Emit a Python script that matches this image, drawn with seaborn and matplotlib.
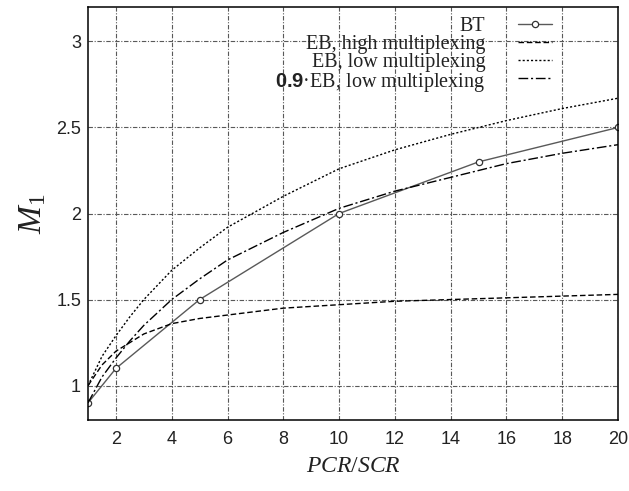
# -*- coding: utf-8 -*-
"""
M1 vs PCR/SCR: BT against the EB bounds (gnuplot-like look)
"""
import matplotlib
matplotlib.use("Agg")
import matplotlib.pyplot as plt
import seaborn as sns
import pandas as pd

# BT simulation points
bt_x = [1, 2, 5, 10, 15, 20]
bt_y = [0.9, 1.1, 1.5, 2.0, 2.3, 2.5]

# EB curves
eb_x = [1, 1.5, 2, 2.5, 3, 4, 5, 6, 8, 10, 12, 14, 16, 18, 20]
eb_high = [1.0, 1.12, 1.2, 1.25, 1.3, 1.36, 1.39, 1.41, 1.45, 1.47, 1.49, 1.5, 1.51, 1.52, 1.53]
eb_low = [1.0, 1.17, 1.29, 1.4, 1.5, 1.67, 1.8, 1.92, 2.1, 2.26, 2.37, 2.46, 2.54, 2.61, 2.67]
eb_low09 = [0.9, 1.05, 1.16, 1.26, 1.35, 1.5, 1.62, 1.73, 1.89, 2.03, 2.13, 2.21, 2.29, 2.35, 2.4]

x_ticks = [2, 4, 6, 8, 10, 12, 14, 16, 18, 20]
y_ticks = [1, 1.5, 2, 2.5, 3]
y_tick_labels = ["1", "1.5", "2", "2.5", "3"]

labels = ["BT", "EB, high multiplexing", "EB, low multiplexing",
          "$\\mathbf{0.9}$\u00b7EB, low multiplexing"]


def set_style():
    sns.set_theme(style="white")
    plt.rcParams.update({
        'font.family': 'Liberation Sans',
        'mathtext.fontset': 'custom',
        'mathtext.rm': 'Liberation Serif',
        'mathtext.it': 'Liberation Serif:italic',
        'mathtext.bf': 'Liberation Sans:bold',
        'axes.edgecolor': 'black',
        'axes.linewidth': 1.1,
    })


set_style()
fig, ax = plt.subplots(figsize=(6.29, 4.91), dpi=100)
fig.subplots_adjust(left=0.140, right=0.9825, top=0.9857, bottom=0.1446)

bt_df = pd.DataFrame({'x': bt_x, 'y': bt_y})
eb_df = pd.DataFrame({'x': eb_x, 'high': eb_high, 'low': eb_low, 'low09': eb_low09})

sns.lineplot(data=bt_df, x='x', y='y', ax=ax, color='0.35', linewidth=1.0,
             marker='o', markersize=4.5, markerfacecolor='white',
             markeredgecolor='0.2', markeredgewidth=0.9, label=labels[0])
sns.lineplot(data=eb_df, x='x', y='high', ax=ax, color='black', linewidth=1.0,
             linestyle=(0, (4, 2)), label=labels[1])
sns.lineplot(data=eb_df, x='x', y='low', ax=ax, color='black', linewidth=1.0,
             linestyle=(0, (1.5, 1.5)), label=labels[2])
sns.lineplot(data=eb_df, x='x', y='low09', ax=ax, color='black', linewidth=1.0,
             linestyle=(0, (7, 2, 1.5, 2)), label=labels[3])

ax.set_xlim(1, 20)
ax.set_ylim(0.8, 3.2)
ax.set_xticks(x_ticks)
ax.set_yticks(y_ticks)
ax.set_yticklabels(y_tick_labels)
ax.tick_params(axis='x', length=0, labelsize=13, pad=8, colors='#222222')
ax.tick_params(axis='y', length=0, labelsize=13, pad=5, colors='#222222')
ax.grid(True, color='0.35', linewidth=0.8, linestyle=(0, (4, 1.5, 1, 1.5)))
ax.set_axisbelow(True)

ax.set_xlabel('$PCR/SCR$', fontsize=17, labelpad=5, color='#222222')
ax.set_ylabel('$M_1$', fontsize=24, labelpad=6, rotation=90, color='#222222')

leg = ax.legend(loc='upper right', bbox_to_anchor=(0.875, 0.975), frameon=False,
                markerfirst=False, handlelength=1.7, handletextpad=1.6,
                labelspacing=-0.05, borderpad=0, borderaxespad=0,
                prop={'family': 'Liberation Serif', 'size': 14.5})
for t in leg.get_texts():
    t.set_ha('right')
    t.set_color('#222222')
# right-align legend text like gnuplot
leg._legend_box.align = 'right'
for hp in leg._legend_box.get_children()[1].get_children():
    for ch in hp.get_children():
        ch.align = 'right'

fig.savefig('out.png', dpi=100)
plt.close(fig)
